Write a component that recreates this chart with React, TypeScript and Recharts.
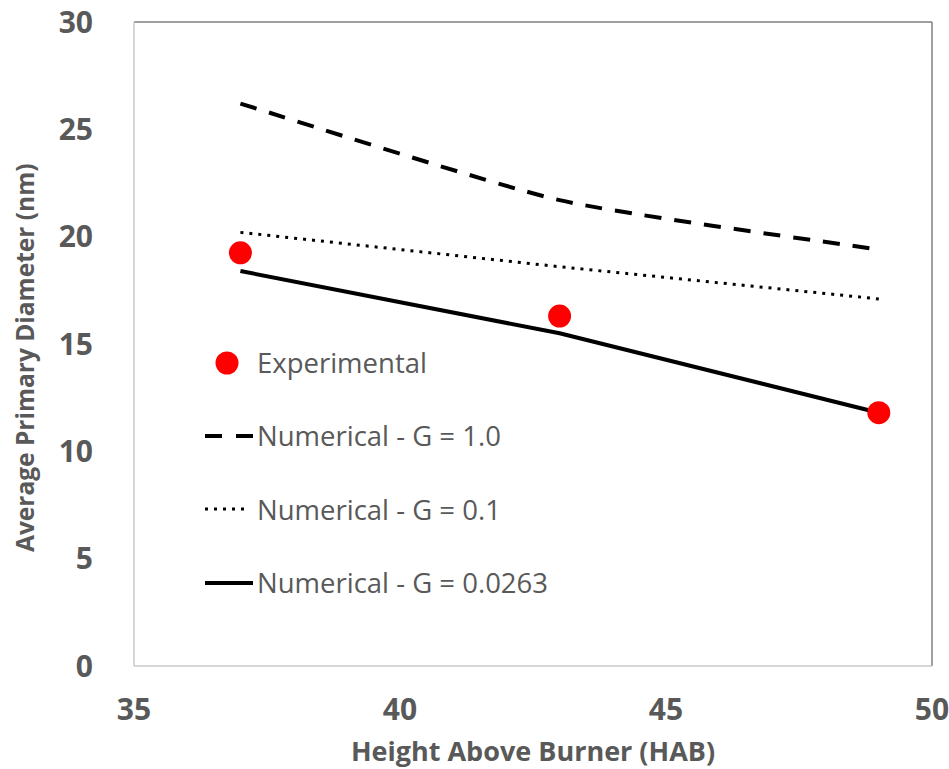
import { ComposedChart, Line, Scatter, XAxis, YAxis, ReferenceLine } from "recharts";

const hab = [37, 43, 49];
const experimental = [19.25, 16.3, 11.8];
const numG1 = [26.2, 21.7, 19.4];
const numG01 = [20.2, 18.6, 17.1];
const numG0263 = [18.4, 15.5, 11.8];

const xTicks = [35, 40, 45, 50];
const yTicks = [0, 5, 10, 15, 20, 25, 30];

const toPoints = (ys: number[]) => hab.map((x, i) => ({ x, y: ys[i] }));

const FONT = "'Open Sans', 'Noto Sans', sans-serif";
const GREY = "#595959";

// Excel-like smoothed line, a bit tighter than plain Catmull-Rom
const excelSmooth = (ctx: any) => {
  let pts: number[][] = [];
  const k = 10;
  return {
    areaStart() {},
    areaEnd() {},
    lineStart() {
      pts = [];
    },
    point(x: number, y: number) {
      pts.push([x, y]);
    },
    lineEnd() {
      if (!pts.length) return;
      ctx.moveTo(pts[0][0], pts[0][1]);
      for (let i = 0; i < pts.length - 1; i++) {
        const p0 = pts[Math.max(i - 1, 0)];
        const p1 = pts[i];
        const p2 = pts[i + 1];
        const p3 = pts[Math.min(i + 2, pts.length - 1)];
        ctx.bezierCurveTo(
          p1[0] + (p2[0] - p0[0]) / k,
          p1[1] + (p2[1] - p0[1]) / k,
          p2[0] - (p3[0] - p1[0]) / k,
          p2[1] - (p3[1] - p1[1]) / k,
          p2[0],
          p2[1]
        );
      }
    },
  };
};

const legendItems = [
  { label: "Experimental", kind: "dot" },
  { label: "Numerical - G = 1.0", kind: "dash" },
  { label: "Numerical - G = 0.1", kind: "dot-line" },
  { label: "Numerical - G = 0.0263", kind: "solid" },
];

// in-plot legend, Excel style
function LegendBox() {
  return (
    <div
      style={{
        position: "absolute",
        left: 203,
        top: 326,
        fontFamily: FONT,
        fontSize: 27.5,
        color: GREY,
        whiteSpace: "nowrap",
      }}
    >
      {legendItems.map((it) => (
        <div key={it.label} style={{ display: "flex", alignItems: "center", height: 73.3 }}>
          <svg width={52} height={24} style={{ marginRight: 2 }}>
            {it.kind === "dot" && <circle cx={24} cy={12} r={11.5} fill="#ff0000" />}
            {it.kind === "dash" && (
              <line x1={2} y1={12} x2={50} y2={12} stroke="#000" strokeWidth={4} strokeDasharray="17 14" />
            )}
            {it.kind === "dot-line" && (
              <line x1={2} y1={12} x2={44} y2={12} stroke="#000" strokeWidth={3} strokeDasharray="3 6" />
            )}
            {it.kind === "solid" && <line x1={2} y1={12} x2={50} y2={12} stroke="#000" strokeWidth={4} />}
          </svg>
          <span>{it.label}</span>
        </div>
      ))}
    </div>
  );
}

export default function App() {
  return (
    <div style={{ position: "absolute", left: 0, top: 0, width: 949, height: 769, background: "#fff" }}>
      <ComposedChart width={949} height={769} margin={{ top: 22, right: 17, left: 0, bottom: 0 }}>
        <XAxis
          type="number"
          dataKey="x"
          domain={[35, 50]}
          ticks={xTicks}
          axisLine={{ stroke: "#c8c8c8", strokeWidth: 1.5 }}
          tickLine={false}
          tickSize={0}
          tickMargin={33}
          height={103}
          tick={{ fontSize: 30, fontWeight: 700, fill: GREY, fontFamily: FONT }}
          label={{
            value: "Height Above Burner (HAB)",
            position: "insideBottom",
            offset: 8,
            style: { fontSize: 27, fontWeight: 700, fill: GREY, fontFamily: FONT },
          }}
        />
        <YAxis
          type="number"
          dataKey="y"
          domain={[0, 30]}
          ticks={yTicks}
          axisLine={{ stroke: "#c8c8c8", strokeWidth: 1.5 }}
          tickLine={false}
          tickSize={0}
          tickMargin={41}
          width={134}
          tick={{ fontSize: 30, fontWeight: 700, fill: GREY, fontFamily: FONT }}
          label={{
            value: "Average Primary Diameter (nm)",
            angle: -90,
            position: "insideLeft",
            offset: 25,
            dy: 208,
            style: { fontSize: 24.5, fontWeight: 700, fill: GREY, fontFamily: FONT },
          }}
        />
        <ReferenceLine y={30} stroke="#7f7f7f" strokeWidth={1.5} ifOverflow="visible" />
        <ReferenceLine x={50} stroke="#7f7f7f" strokeWidth={1.5} ifOverflow="visible" />
        <Line
          data={toPoints(numG1)}
          dataKey="y"
          type={excelSmooth as any}
          stroke="#000"
          strokeWidth={4}
          strokeDasharray="17 13"
          dot={false}
          isAnimationActive={false}
        />
        <Line
          data={toPoints(numG01)}
          dataKey="y"
          type="linear"
          stroke="#000"
          strokeWidth={3}
          strokeDasharray="3 6"
          dot={false}
          isAnimationActive={false}
        />
        <Line
          data={toPoints(numG0263)}
          dataKey="y"
          type="linear"
          stroke="#000"
          strokeWidth={4}
          dot={false}
          isAnimationActive={false}
        />
        <Scatter
          data={toPoints(experimental)}
          dataKey="y"
          fill="#ff0000"
          shape={(p: any) => <circle cx={p.cx} cy={p.cy} r={11.5} fill="#ff0000" />}
          isAnimationActive={false}
        />
      </ComposedChart>
      <LegendBox />
    </div>
  );
}
